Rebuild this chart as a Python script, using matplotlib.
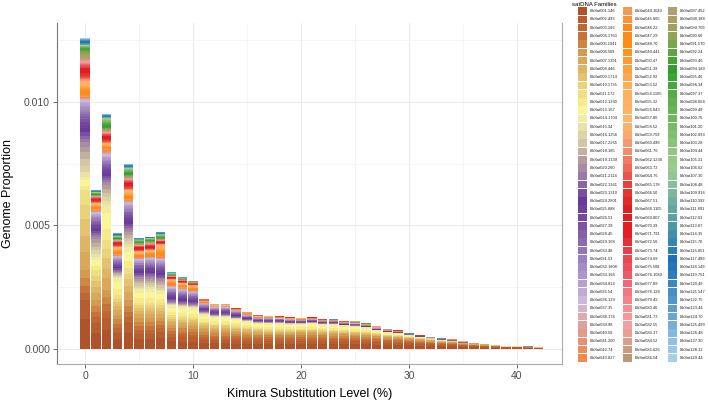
import numpy as np
import matplotlib
matplotlib.use("Agg")
import matplotlib.pyplot as plt
import matplotlib.ticker as mticker
from matplotlib.colors import to_rgb
from matplotlib.patches import Rectangle

plt.rcParams["font.family"] = ["Liberation Sans", "DejaVu Sans"]

# ------------------------------------------------------------------
# data: Kimura bins and stacked genome proportion (x 1e-4) by colour group
# ------------------------------------------------------------------
kimura = list(range(43))

# families 001-002
grp_a = [19.7, 10.5, 12.6, 6.5, 10.5, 6.1, 6.1, 6.9, 4.9, 4.7, 4.6, 3.9, 3.6, 3.6, 3.4, 3.3, 3.2, 3.2, 3.2, 3.2, 3.3,
         3.3, 3.2, 3.2, 3.1, 3.0, 2.9, 2.7, 2.5, 2.4, 2.2, 2.0, 1.8, 1.6, 1.5, 1.2, 1.0, 0.8, 0.7, 0.5, 0.5, 0.4, 0.3]
# families 003-006
grp_b = [12.2, 9.3, 11.3, 7.3, 9.3, 6.5, 6.5, 5.7, 4.9, 4.7, 4.6, 3.9, 3.6, 3.6, 3.3, 3.1, 2.9, 2.9, 2.9, 2.9, 3.0,
         3.0, 2.9, 2.8, 2.7, 2.6, 2.5, 2.3, 2.1, 2.0, 1.8, 1.6, 1.4, 1.2, 1.1, 0.9, 0.7, 0.5, 0.5, 0.3, 0.3, 0.2, 0.1]
# families 007-011
grp_c = [32.4, 12.2, 20.3, 8.1, 13.0, 6.1, 6.1, 6.1, 3.7, 3.7, 3.6, 3.2, 3.0, 3.0, 2.8, 2.4, 2.1, 2.0, 2.0, 1.9, 1.8,
         1.8, 1.7, 1.7, 1.6, 1.6, 1.5, 1.3, 1.1, 1.0, 0.8, 0.7, 0.6, 0.5, 0.5, 0.3, 0.2, 0.2, 0.2, 0.1, 0.1, 0.0, 0.0]
# families 012-014
grp_d = [5.3, 5.3, 14.2, 6.9, 8.5, 5.3, 5.5, 4.5, 4.1, 3.9, 3.8, 3.0, 2.8, 2.8, 2.6, 2.4, 2.2, 2.2, 2.2, 2.1, 2.0,
         2.3, 2.1, 2.2, 2.0, 1.9, 1.7, 1.2, 1.0, 0.9, 0.6, 0.4, 0.3, 0.2, 0.2, 0.1, 0.0, 0.1, 0.1, 0.0, 0.0, 0.0, 0.0]
# families 015-020
grp_e = [14.2, 8.1, 9.3, 2.4, 6.9, 4.9, 4.9, 4.9, 1.2, 1.2, 1.1, 0.8, 0.6, 0.6, 0.5, 0.4, 0.4, 0.4, 0.4, 0.3, 0.3,
         0.3, 0.3, 0.3, 0.2, 0.2, 0.2, 0.1, 0.1, 0.1, 0.1, 0.1, 0.1, 0.0, 0.0, 0.0, 0.0, 0.0, 0.0, 0.0, 0.0, 0.0, 0.0]
# families 021-036
grp_f = [17.0, 9.7, 10.9, 6.1, 10.9, 7.3, 7.5, 8.1, 6.1, 5.7, 5.3, 3.4, 3.2, 3.2, 2.8, 2.0, 1.7, 1.7, 1.6, 1.4, 1.2,
         1.3, 1.1, 1.1, 0.9, 0.9, 0.8, 0.7, 0.5, 0.5, 0.4, 0.4, 0.4, 0.4, 0.3, 0.2, 0.2, 0.0, 0.0, 0.0, 0.0, 0.4, 0.0]
# families 037-043
grp_g = [1.2, 1.2, 2.0, 0.8, 1.2, 0.8, 0.8, 0.8, 0.8, 0.8, 0.7, 0.4, 0.3, 0.3, 0.3, 0.2, 0.2, 0.2, 0.2, 0.1, 0.1,
         0.1, 0.1, 0.1, 0.1, 0.1, 0.1, 0.1, 0.1, 0.1, 0.0, 0.0, 0.0, 0.0, 0.1, 0.0, 0.0, 0.0, 0.0, 0.0, 0.0, 0.0, 0.0]
# families 044-060
grp_h = [6.9, 2.8, 2.8, 3.2, 4.1, 2.4, 2.6, 5.3, 2.4, 2.0, 2.0, 0.9, 0.5, 0.5, 0.5, 0.9, 0.5, 0.5, 0.5, 0.6, 0.6,
         0.5, 0.4, 0.3, 0.4, 0.3, 0.2, 0.2, 0.2, 0.2, 0.2, 0.0, 0.0, 0.0, 0.2, 0.3, 0.0, 0.2, 0.0, 0.0, 0.1, 0.0, 0.1]
# families 061-080
grp_i = [6.9, 2.4, 4.1, 2.4, 4.1, 2.4, 2.4, 1.6, 1.2, 1.0, 0.9, 0.5, 0.3, 0.3, 0.3, 0.2, 0.3, 0.2, 0.2, 0.2, 0.1,
         0.1, 0.2, 0.1, 0.2, 0.2, 0.1, 0.4, 0.1, 0.5, 0.0, 0.5, 0.3, 0.1, 0.0, 0.0, 0.3, 0.0, 0.0, 0.0, 0.0, 0.0, 0.0]
# families 081-092
grp_j = [5.3, 0.8, 2.0, 0.8, 2.0, 1.2, 1.2, 0.8, 0.4, 0.4, 0.4, 0.1, 0.1, 0.1, 0.05, 0.0, 0.0, 0.0, 0.0, 0.0, 0.0,
         0.0, 0.0, 0.0, 0.0, 0.0, 0.2, 0.0, 0.2, 0.0, 0.0, 0.0, 0.0, 0.0, 0.0, 0.0, 0.0, 0.0, 0.0, 0.0, 0.0, 0.0, 0.0]
# families 093-108
grp_k = [2.0, 1.2, 4.1, 1.2, 2.8, 1.2, 1.2, 1.6, 0.8, 0.6, 0.4, 0.1, 0.05, 0.05, 0.05, 0.0, 0.0, 0.0, 0.0, 0.0, 0.0,
         0.0, 0.0, 0.0, 0.0, 0.3, 0.3, 0.0, 0.2, 0.0, 0.0, 0.0, 0.0, 0.0, 0.0, 0.0, 0.0, 0.0, 0.0, 0.0, 0.0, 0.0, 0.0]
# families 109-129
grp_l = [2.7, 0.8, 1.5, 1.2, 1.5, 0.7, 0.5, 1.1, 0.5, 0.2, 0.2, 0.1, 0.05, 0.05, 0.0, 0.1, 0.0, 0.0, 0.1, 0.0, 0.0,
         0.0, 0.0, 0.2, 0.0, 0.0, 0.0, 0.0, 0.0, 0.0, 0.3, 0.0, 0.0, 0.2, 0.0, 0.0, 0.0, 0.0, 0.1, 0.2, 0.0, 0.0, 0.0]

# relative share of each family inside its group
w_a = [1.6, 1.0]
w_b = [1.0, 0.9, 1.1, 1.0]
w_c = [1.2, 1.0, 1.1, 0.9, 1.0]
w_d = [1.0, 1.4, 0.8]
w_e = [0.9, 1.0, 1.1, 1.2, 1.0, 0.8]
w_f = [1.0, 1.2, 1.4, 1.6, 1.3, 1.0, 1.1, 1.0, 0.9, 0.8, 0.9, 0.8, 0.7, 0.8, 0.7, 0.6]
w_g = [0.8, 1.0, 1.0, 1.1, 1.0, 1.0, 1.2]
w_h = [1.0, 1.2, 1.5, 1.6, 1.4, 1.2, 1.0, 1.0, 0.9, 0.9, 0.8, 0.8, 0.8, 0.7, 0.7, 0.6, 0.6]
w_i = [0.6, 0.7, 0.9, 1.2, 1.5, 1.6, 1.6, 1.5, 1.4, 1.3, 1.2, 1.0, 0.9, 0.8, 0.7, 0.7, 0.6, 0.6, 0.5, 0.5]
w_j = [0.6, 0.6, 0.7, 0.8, 0.8, 0.9, 1.0, 1.0, 1.1, 1.2, 1.2, 1.3]
w_k = [1.4, 1.5, 1.3, 1.2, 1.1, 1.0, 1.0, 0.9, 0.9, 0.8, 0.8, 0.7, 0.7, 0.6, 0.6, 0.5]
w_l = [0.5, 0.5, 0.6, 0.6, 0.7, 0.8, 0.9, 1.2, 1.4, 1.2, 1.0, 0.9, 0.8, 0.8, 0.7, 0.7, 0.6, 0.6, 0.5, 0.5, 0.5]

families = [
    "LlbSat001.146", "LlbSat002.493", "LlbSat003.166", "LlbSat004.1763", "LlbSat005.1041", "LlbSat006.509",
    "LlbSat007.1391", "LlbSat008.446", "LlbSat009.1714", "LlbSat010.1735", "LlbSat011.172", "LlbSat012.1260",
    "LlbSat013.167", "LlbSat014.1704", "LlbSat015.34", "LlbSat016.1258", "LlbSat017.2265", "LlbSat018.185",
    "LlbSat019.1339", "LlbSat020.260", "LlbSat021.2114", "LlbSat022.1361", "LlbSat023.1310", "LlbSat024.2801",
    "LlbSat025.888", "LlbSat026.53", "LlbSat027.39", "LlbSat028.45", "LlbSat029.168", "LlbSat030.48",
    "LlbSat031.53", "LlbSat032.1808", "LlbSat033.166", "LlbSat034.814", "LlbSat035.54", "LlbSat036.129",
    "LlbSat037.35", "LlbSat038.174", "LlbSat039.98", "LlbSat040.56", "LlbSat041.200", "LlbSat042.74",
    "LlbSat043.827",
    "LlbSat044.1043", "LlbSat045.665", "LlbSat046.22", "LlbSat047.29", "LlbSat048.70", "LlbSat049.441",
    "LlbSat050.47", "LlbSat051.39", "LlbSat052.92", "LlbSat053.52", "LlbSat054.1165", "LlbSat055.32",
    "LlbSat056.843", "LlbSat057.80", "LlbSat058.52", "LlbSat059.759", "LlbSat060.498", "LlbSat061.76",
    "LlbSat062.1230", "LlbSat063.72", "LlbSat064.76", "LlbSat065.178", "LlbSat066.50", "LlbSat067.51",
    "LlbSat068.1105", "LlbSat069.807", "LlbSat070.39", "LlbSat071.791", "LlbSat072.56", "LlbSat073.74",
    "LlbSat074.69", "LlbSat075.508", "LlbSat076.1089", "LlbSat077.89", "LlbSat078.128", "LlbSat079.42",
    "LlbSat080.40", "LlbSat081.73", "LlbSat082.55", "LlbSat083.37", "LlbSat084.52", "LlbSat085.626",
    "LlbSat086.54",
    "LlbSat087.452", "LlbSat088.188", "LlbSat089.709", "LlbSat090.60", "LlbSat091.570", "LlbSat092.24",
    "LlbSat093.46", "LlbSat094.189", "LlbSat095.46", "LlbSat096.34", "LlbSat097.37", "LlbSat098.864",
    "LlbSat099.48", "LlbSat100.76", "LlbSat101.20", "LlbSat102.893", "LlbSat103.28", "LlbSat104.44",
    "LlbSat105.31", "LlbSat106.62", "LlbSat107.30", "LlbSat108.48", "LlbSat109.916", "LlbSat110.392",
    "LlbSat111.891", "LlbSat112.63", "LlbSat113.87", "LlbSat114.35", "LlbSat115.70", "LlbSat116.851",
    "LlbSat117.489", "LlbSat118.149", "LlbSat119.761", "LlbSat120.49", "LlbSat121.547", "LlbSat122.75",
    "LlbSat123.44", "LlbSat124.70", "LlbSat125.499", "LlbSat126.48", "LlbSat127.30", "LlbSat128.32",
    "LlbSat129.44",
]

# palette anchors (family number -> colour), filled in between
pal_idx = [1, 4, 6, 8, 10, 12, 13, 15, 17, 19, 21, 24, 26, 29, 32, 35, 36, 37, 39, 41, 43, 44, 46, 48, 50,
           53, 57, 59, 61, 63, 65, 68, 71, 73, 76, 78, 80, 82, 84, 86, 87, 89, 90, 92, 94, 96, 98, 100, 102,
           104, 106, 108, 110, 112, 114, 116, 117, 119, 121, 123, 125, 127, 129]
pal_hex = ["#B0522A", "#C67238", "#D49A50", "#DDB565", "#E8D27A", "#F6EB88", "#FBF59A", "#E9E2A6", "#D3C5A5",
           "#B39C9B", "#9A79A9", "#6A3A9A", "#75489E", "#8C6AB0", "#A58CC5", "#C0AAD6", "#CDB8DC", "#D6B4C4",
           "#DDA29B", "#E39478", "#EE8C48", "#F59B50", "#FC8A1E", "#FF8C14", "#FE9A35", "#FFAE5A", "#FFB468",
           "#F8A870", "#F08C70", "#EC6A58", "#E84038", "#E0201E", "#E41E24", "#E64048", "#EC5C68", "#F27880",
           "#F78E94", "#F4A0A0", "#D8A08C", "#BC9874", "#B0A070", "#A0A060", "#8FA658", "#5CA642", "#2EA02C",
           "#46A83C", "#62B052", "#70B85E", "#80C070", "#92C882", "#9ECA8E", "#88BF9C", "#70B0A0", "#58A2A2",
           "#4090A8", "#2C7EB6", "#1F70B4", "#2E7EBC", "#4690C6", "#5E9ECE", "#76AED8", "#90C0E2", "#A6D0EA"]

# ------------------------------------------------------------------
# build family x bin matrix
# ------------------------------------------------------------------
groups = [(grp_a, w_a), (grp_b, w_b), (grp_c, w_c), (grp_d, w_d), (grp_e, w_e), (grp_f, w_f),
          (grp_g, w_g), (grp_h, w_h), (grp_i, w_i), (grp_j, w_j), (grp_k, w_k), (grp_l, w_l)]
rows = []
for g, w in groups:
    g = np.array(g) * 1e-4
    w = np.array(w) / np.sum(w)
    for share in w:
        rows.append(g * share)
values = np.array(rows)

pal_rgb = np.array([to_rgb(c) for c in pal_hex])
fam_no = np.arange(1, len(families) + 1)
colors = np.column_stack([np.interp(fam_no, pal_idx, pal_rgb[:, k]) for k in range(3)])

# ------------------------------------------------------------------
# plot
# ------------------------------------------------------------------
W, H = 708, 404
fig = plt.figure(figsize=(W / 100, H / 100), dpi=100)
ax = fig.add_axes([57 / W, 1 - 364 / H, (562 - 57) / W, (364 - 23) / H])

bottom = np.zeros(len(kimura))
for vals, col in zip(values, colors):
    ax.bar(kimura, vals, bottom=bottom, width=0.88, color=col, edgecolor="none", linewidth=0)
    bottom += vals

ax.set_xlim(-2.6, 44.17)
ax.set_ylim(-0.00062, 0.0132)
ax.set_xticks([0, 10, 20, 30, 40])
ax.set_xticks([5, 15, 25, 35], minor=True)
ax.set_yticks([0, 0.005, 0.010])
ax.set_yticks([0.0025, 0.0075, 0.0125], minor=True)
ax.yaxis.set_major_formatter(mticker.FuncFormatter(lambda v, _: f"{v:.3f}"))
ax.grid(True, which="major", color="#EBEBEB", linewidth=0.8, zorder=0)
ax.grid(True, which="minor", color="#F2F2F2", linewidth=0.5, zorder=0)
ax.set_axisbelow(True)
ax.tick_params(which="major", length=3, width=0.6, color="#555555", labelsize=7.5, labelcolor="#4D4D4D", pad=2)
ax.tick_params(which="minor", length=0)
for s in ax.spines.values():
    s.set_color("#AAAAAA")
    s.set_linewidth(0.8)
ax.spines["left"].set_color("#777777")
ax.spines["top"].set_visible(False)
ax.set_xlabel("Kimura Substitution Level (%)", fontsize=9, labelpad=5)
ax.set_ylabel("Genome Proportion", fontsize=9, labelpad=7)

# legend drawn in pixel space
lg = fig.add_axes([0, 0, 1, 1])
lg.set_xlim(0, W)
lg.set_ylim(H, 0)
lg.axis("off")
lg.text(572, 4, "satDNA Families", fontsize=4.3, va="center", ha="left")
col_x = [578, 623, 668]
pitch = (362 - 7) / 43
for n, (name, col) in enumerate(zip(families, colors)):
    c, r = divmod(n, 43)
    y0 = 7 + r * pitch
    lg.add_patch(Rectangle((col_x[c], y0 + 0.3), 9, pitch - 0.6, facecolor=col, edgecolor="none"))
    lg.text(col_x[c] + 11.5, y0 + pitch / 2, name, fontsize=2.9, va="center", ha="left", color="#222222")

plt.savefig("out.png", dpi=100)
